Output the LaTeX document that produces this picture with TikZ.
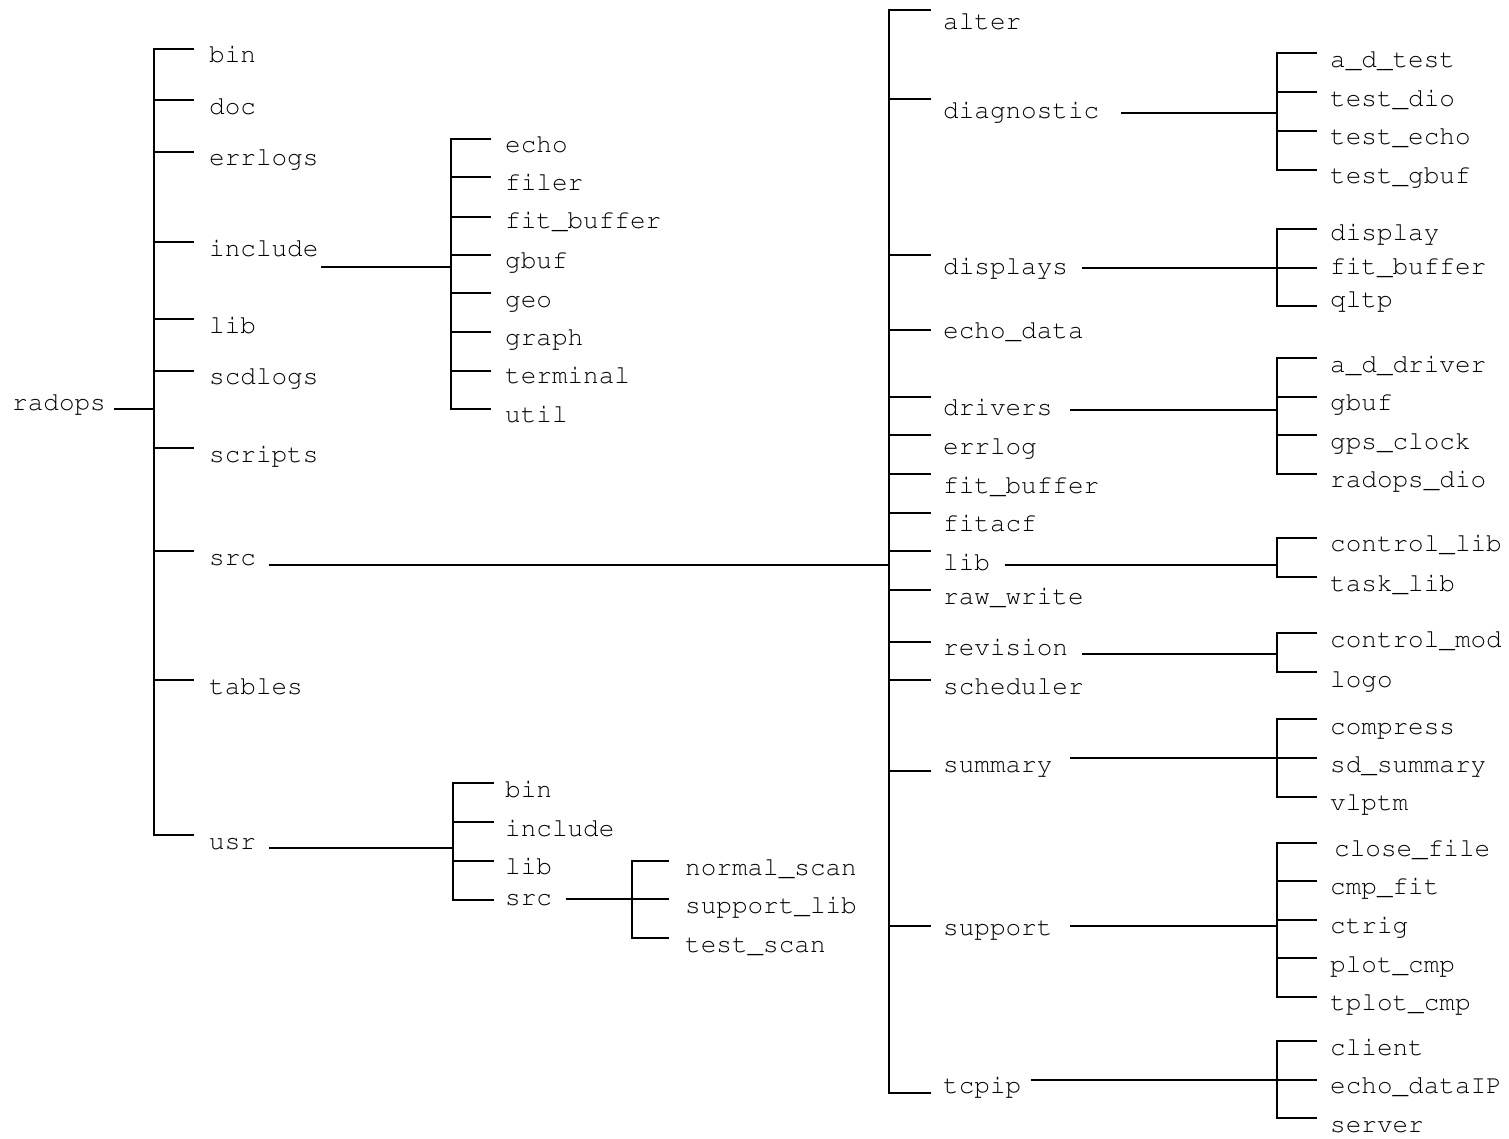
\documentclass[tikz,border=0pt]{standalone}
\usepackage[T1]{fontenc}
\begin{document}
\begin{tikzpicture}[x=1pt,y=-1pt,
  lbl/.style={anchor=base west, inner sep=0pt, font=\fontsize{26}{30}\fontfamily{pcr}\selectfont},
  ln/.style={line width=1.7pt, line cap=rect, black}]
\useasboundingbox (0,0) rectangle (1509,1138);
% kids: #1 trunk x, #2 branch end x, #3 label x, #4 list name/text/branch y/text y
\newcommand\kidsof[4]{%
  \foreach \nm/\tx/\by/\ty in {#4}{%
    \coordinate (\nm-j) at (#1,\by);
    \coordinate (\nm-e) at (#2,\by);
    \draw[ln] (\nm-j) -- (\nm-e);
    \node[lbl] (\nm) at (#3,\ty+7) {\tx};
  }}
% root
\node[lbl] (radops) at (12,410) {radops};
\coordinate (radops-o) at (115,409);
\coordinate (radops-j) at (154,409);
\draw[ln] (radops-o) -- (radops-j);
\kidsof{154}{193}{209}{Lbin/bin/49/55, Ldoc/doc/100/107, Lerrlogs/errlogs/152/158, Linclude/include/242/249, Llib/lib/319/326, Lscdlogs/scdlogs/371/377, Lscripts/scripts/448/455, Lsrc/src/551/558, Ltables/tables/680/687, Lusr/usr/835/842}
\draw[ln] (Lbin-j) -- (Lusr-j);
% include
\coordinate (inc-o) at (322,267);
\coordinate (inc-j) at (451,267);
\draw[ln] (inc-o) -- (inc-j);
\kidsof{451}{490}{505}{Iecho/echo/139/145, Ifiler/filer/177/183, Ifit/fit\_buffer/217/221, Igbuf/gbuf/255/261, Igeo/geo/293/300, Igraph/graph/332/338, Iterm/terminal/371/376, Iutil/util/409/415}
\draw[ln] (Iecho-j) -- (Iutil-j);
% usr
\coordinate (usr-o) at (270,848);
\coordinate (usr-j) at (453,848);
\draw[ln] (usr-o) -- (usr-j);
\kidsof{453}{493}{505}{Ubin/bin/783/790, Uinc/include/822/829, Ulib/lib/861/867, Usrc/src/900/898}
\draw[ln] (Ubin-j) -- (Usrc-j);
% usr/src
\coordinate (us-o) at (567,899);
\coordinate (us-j) at (632,899);
\draw[ln] (us-o) -- (us-j);
\kidsof{632}{668}{685}{Snormal/normal\_scan/861/868, Ssupport/support\_lib/899/906, Stest/test\_scan/938/945}
\draw[ln] (Snormal-j) -- (Stest-j);
% src
\coordinate (src-o) at (270,565);
\coordinate (src-j) at (889,565);
\draw[ln] (src-o) -- (src-j);
\kidsof{889}{930}{943}{Ralter/alter/10/22, Rdiag/diagnostic/99/111, Rdisp/displays/255/267, Recho/echo\_data/330/331, Rdrv/drivers/397/408, Rerr/errlog/435/447, Rfit/fit\_buffer/474/486, Rfitacf/fitacf/513/524, Rlib/lib/551/563, Rraw/raw\_write/590/597, Rrev/revision/642/648, Rsched/scheduler/680/687, Rsum/summary/771/765, Rsup/support/926/928, Rtcp/tcpip/1093/1086}
\draw[ln] (Ralter-j) -- (Rtcp-j);
% diagnostic
\coordinate (dg-o) at (1122,113); \coordinate (dg-j) at (1277,113);
\draw[ln] (dg-o) -- (dg-j);
\kidsof{1277}{1316}{1330}{Dad/a\_d\_test/53/60, Ddio/test\_dio/92/99, Decho/test\_echo/131/137, Dgbuf/test\_gbuf/170/176}
\draw[ln] (Dad-j) -- (Dgbuf-j);
% displays
\coordinate (dp-o) at (1083,268); \coordinate (dp-j) at (1277,268);
\draw[ln] (dp-o) -- (dp-j);
\kidsof{1277}{1316}{1330}{Pdisp/display/229/233, Pfit/fit\_buffer/268/267, Pqltp/qltp/306/300}
\draw[ln] (Pdisp-j) -- (Pqltp-j);
% drivers
\coordinate (dr-o) at (1071,410); \coordinate (dr-j) at (1277,410);
\draw[ln] (dr-o) -- (dr-j);
\kidsof{1277}{1316}{1330}{Vad/a\_d\_driver/358/365, Vgbuf/gbuf/397/403, Vgps/gps\_clock/435/442, Vdio/radops\_dio/474/480}
\draw[ln] (Vad-j) -- (Vdio-j);
% lib
\coordinate (lb-o) at (1006,565); \coordinate (lb-j) at (1277,565);
\draw[ln] (lb-o) -- (lb-j);
\kidsof{1277}{1316}{1330}{Bctl/control\_lib/538/544, Btask/task\_lib/577/584}
\draw[ln] (Bctl-j) -- (Btask-j);
% revision
\coordinate (rv-o) at (1083,654); \coordinate (rv-j) at (1277,654);
\draw[ln] (rv-o) -- (rv-j);
\kidsof{1277}{1316}{1330}{Mctl/control\_mod/633/640, Mlogo/logo/672/680}
\draw[ln] (Mctl-j) -- (Mlogo-j);
% summary
\coordinate (sm-o) at (1071,758); \coordinate (sm-j) at (1277,758);
\draw[ln] (sm-o) -- (sm-j);
\kidsof{1277}{1316}{1330}{Ycomp/compress/719/727, Ysd/sd\_summary/758/765, Yvl/vlptm/797/803}
\draw[ln] (Ycomp-j) -- (Yvl-j);
% support
\coordinate (sp-o) at (1071,926); \coordinate (sp-j) at (1277,926);
\draw[ln] (sp-o) -- (sp-j);
\kidsof{1277}{1316}{1330}{Xcmp/cmp\_fit/881/887, Xctrig/ctrig/920/926, Xplot/plot\_cmp/958/965, Xtplot/tplot\_cmp/997/1003}
\coordinate (Xclose-j) at (1277,843); \coordinate (Xclose-e) at (1316,843);
\draw[ln] (Xclose-j) -- (Xclose-e);
\node[lbl] (Xclose) at (1334,856) {close\_file};
\draw[ln] (Xclose-j) -- (Xtplot-j);
% tcpip
\coordinate (tc-o) at (1032,1080); \coordinate (tc-j) at (1277,1080);
\draw[ln] (tc-o) -- (tc-j);
\kidsof{1277}{1316}{1330}{Tcl/client/1041/1048, Techo/echo\_dataIP/1080/1086, Tsrv/server/1118/1125}
\draw[ln] (Tcl-j) -- (Tsrv-j);
\end{tikzpicture}
\end{document}
